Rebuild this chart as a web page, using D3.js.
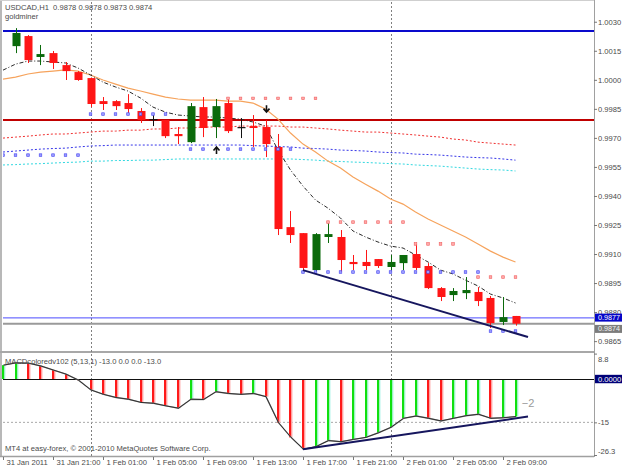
<!DOCTYPE html>
<html>
<head>
<meta charset="utf-8">
<script src="https://cdnjs.cloudflare.com/ajax/libs/d3/7.8.5/d3.min.js"></script>
<style>
  body { margin: 0; background: #fff; }
  svg text { font-family: "Liberation Sans", Arial, sans-serif; }
</style>
</head>
<body>
<div id="vis"></div>
<script>
// hourly bars, bar 0 = 31 Jan 17:00 (left edge), candles start at bar 1
var firstCandle = 1;
var candleOpen  = [1.00174,1.00226,1.00118,1.00138,1.00076,1.00040,1.00009,0.99890,0.99890,0.99880,
                   0.99839,0.99797,0.99792,0.99720,0.99678,0.99859,0.99756,0.99880,0.99756,0.99761,
                   0.99756,0.99653,0.99239,0.99208,0.99017,0.99188,0.99188,0.99059,0.99059,0.99074,
                   0.99033,0.99053,0.99100,0.99038,0.98924,0.98888,0.98898,0.98904,0.98873,0.98749,
                   0.98780];
var candleHigh  = [1.00267,1.00231,1.00180,1.00149,1.00092,1.00045,1.00012,0.99911,0.99895,0.99926,
                   0.99854,0.99828,0.99792,0.99756,0.99880,0.99911,0.99901,0.99906,0.99802,0.99818,
                   0.99792,0.99720,0.99322,0.99208,0.99208,0.99260,0.99224,0.99095,0.99121,0.99074,
                   0.99095,0.99095,0.99152,0.99053,0.98929,0.98924,0.98981,0.98929,0.98883,0.98878,
                   0.98780];
var candleLow   = [1.00138,1.00087,1.00076,1.00056,0.99999,0.99995,0.99859,0.99844,0.99844,0.99828,
                   0.99777,0.99761,0.99699,0.99668,0.99673,0.99704,0.99699,0.99725,0.99699,0.99653,
                   0.99601,0.99198,0.99157,0.99017,0.99007,0.99157,0.99007,0.99017,0.99017,0.99028,
                   0.99017,0.99017,0.99017,0.98919,0.98857,0.98857,0.98867,0.98831,0.98718,0.98733,
                   0.98730];
var candleClose = [1.00242,1.00102,1.00133,1.00087,1.00045,0.99999,0.99875,0.99875,0.99864,0.99849,
                   0.99792,0.99797,0.99709,0.99709,0.99864,0.99751,0.99864,0.99735,0.99756,0.99751,
                   0.99668,0.99229,0.99198,0.99028,0.99203,0.99203,0.99069,0.99048,0.99038,0.99038,
                   0.99059,0.99095,0.99028,0.98924,0.98878,0.98909,0.98914,0.98857,0.98743,0.98774,
                   0.98740];

// moving averages, one value per bar (bar 0..41)
var maSlow = [1.00004,1.00014,1.00030,1.00040,1.00045,1.00051,1.00045,1.00025,0.99999,0.99978,
              0.99957,0.99942,0.99926,0.99911,0.99901,0.99895,0.99895,0.99895,0.99890,0.99890,
              0.99880,0.99849,0.99797,0.99725,0.99668,0.99627,0.99580,0.99544,0.99498,0.99461,
              0.99425,0.99384,0.99358,0.99317,0.99281,0.99250,0.99219,0.99188,0.99152,0.99115,
              0.99084,0.99059];
var maFast = [1.00050,1.00081,1.00097,1.00097,1.00092,1.00087,1.00061,1.00025,0.99988,0.99963,
              0.99942,0.99906,0.99859,0.99833,0.99818,0.99813,0.99808,0.99808,0.99802,0.99797,
              0.99782,0.99761,0.99637,0.99534,0.99451,0.99379,0.99337,0.99286,0.99219,0.99188,
              0.99162,0.99141,0.99131,0.99095,0.99059,0.99017,0.98997,0.98965,0.98935,0.98893,
              0.98873,0.98847];
var bandUpper = [0.99699,0.99704,0.99709,0.99715,0.99720,0.99720,0.99725,0.99730,0.99735,0.99735,
                 0.99740,0.99740,0.99746,0.99746,0.99751,0.99751,0.99756,0.99756,0.99756,0.99761,
                 0.99761,0.99761,0.99761,0.99756,0.99756,0.99751,0.99746,0.99740,0.99735,0.99730,
                 0.99730,0.99725,0.99720,0.99715,0.99709,0.99704,0.99694,0.99689,0.99678,0.99673,
                 0.99668,0.99663];
var bandMid = [0.99627,0.99632,0.99637,0.99642,0.99645,0.99647,0.99653,0.99658,0.99660,0.99663,
               0.99663,0.99663,0.99663,0.99663,0.99663,0.99663,0.99663,0.99663,0.99663,0.99663,
               0.99660,0.99658,0.99655,0.99653,0.99647,0.99645,0.99642,0.99637,0.99635,0.99632,
               0.99627,0.99624,0.99622,0.99616,0.99614,0.99611,0.99606,0.99601,0.99598,0.99596,
               0.99591,0.99585];
var bandLower = [0.99560,0.99562,0.99565,0.99567,0.99570,0.99573,0.99575,0.99580,0.99580,0.99583,
                 0.99583,0.99585,0.99585,0.99588,0.99591,0.99591,0.99591,0.99591,0.99591,0.99591,
                 0.99591,0.99591,0.99591,0.99591,0.99588,0.99585,0.99580,0.99578,0.99575,0.99573,
                 0.99570,0.99567,0.99565,0.99560,0.99557,0.99554,0.99549,0.99544,0.99539,0.99536,
                 0.99534,0.99529];

// goldminer dots (null = no dot)
var upperDots = [null,null,null,null,null,null,null,null,null,null,
                 null,null,null,null,null,null,null,null,0.99904,0.99904,
                 0.99904,0.99904,0.99904,0.99904,0.99904,0.99904,0.99265,0.99265,0.99265,0.99265,
                 0.99265,0.99265,0.99265,0.99152,0.99152,0.99152,0.99152,null,0.98981,0.98981,
                 0.98981,0.98981];
var lowerDots = [0.99611,0.99611,0.99611,0.99611,0.99611,0.99611,0.99611,0.99823,0.99823,0.99823,
                 0.99823,0.99823,0.99823,0.99823,null,0.99642,0.99642,null,0.99642,0.99642,
                 0.99642,0.99642,0.99642,0.99642,0.99007,0.99007,0.99007,0.99007,0.99007,0.99007,
                 0.99007,0.99007,0.99007,0.99007,0.99007,0.99007,0.99007,0.99007,0.99007,0.98702,
                 0.98702,0.98702];
var arrowsUp = [[17, 0.99653]];
var arrowsDown = [[21, 0.99833]];

var levelBlue = 1.00252;
var levelRed = 0.99792;
var askPrice = 0.9877;
var bidPrice = 0.9874;
var trendMain = [[24, 0.99017], [42, 0.98671]];

// MACDcoloredv102 histogram
var macdHist = [4.8,5.6,5.5,4.5,3.1,1.7,-0.4,-3.8,-5.3,-6.4,
                -7.0,-8.1,-8.4,-9.3,-10.1,-7.0,-7.1,-4.4,-5.0,-5.3,
                -5.0,-6.1,-15.1,-20.2,-24.3,-23.4,-21.3,-21.7,-20.9,-20.2,
                -18.6,-16.7,-13.6,-12.8,-13.6,-14.5,-13.6,-12.7,-12.2,-13.6,
                -13.4,-13.0];
var trendMacd = [[24, -24.3], [42, -13.0]];
var macdLevel = -15;
var macdNote = [41.5, -9.7, "\u22122"];

var priceTicks = [1.0030,1.0015,1.0000,0.9985,0.9970,0.9955,0.9940,0.9925,0.9910,0.9895,0.9880,0.9865];
var macdTicks = [8.8, -15, -26.3];
var timeTickBars = [0,4,8,12,16,20,24,28,32,36,40];
var timeTickLabels = ["31 Jan 2011","31 Jan 21:00","1 Feb 01:00","1 Feb 05:00","1 Feb 09:00",
                      "1 Feb 13:00","1 Feb 17:00","1 Feb 21:00","2 Feb 01:00","2 Feb 05:00","2 Feb 09:00"];
var daySeparators = [7, 31];

(function run(){

  var W = 625, H = 469;
  var plotLeft = 3, plotRight = 594;
  var mainTop = 2, mainBottom = 351;
  var indTop = 354, indBottom = 456;
  var fs = 7.6;
  var textColor = "#4a4a4a";

  var svg = d3.select("#vis")
    .append("svg")
      .attr("width", W)
      .attr("height", H);

  svg.append("rect").attr("width", W).attr("height", H).attr("fill", "#fff");

  var x = d3.scaleLinear().domain([0, 47.28]).range([plotLeft, plotRight]);
  var y = d3.scaleLinear().domain([0.98599, 1.00402]).range([mainBottom, mainTop]);
  var yInd = d3.scaleLinear().domain([-26.3, 8.8]).range([455, 353.6]);

  var defs = svg.append("defs");
  defs.append("clipPath").attr("id", "clipMain")
    .append("rect").attr("x", plotLeft).attr("y", mainTop)
    .attr("width", plotRight - plotLeft).attr("height", mainBottom - mainTop);
  defs.append("clipPath").attr("id", "clipInd")
    .append("rect").attr("x", plotLeft - 1).attr("y", indTop)
    .attr("width", plotRight - plotLeft + 1).attr("height", indBottom - indTop);

  // frame
  svg.append("line").attr("x1", 1).attr("x2", 1).attr("y1", 0).attr("y2", indBottom + 1)
    .attr("stroke", "#b8b8b8").attr("stroke-width", 2);
  svg.append("line").attr("x1", 0).attr("x2", plotRight).attr("y1", 0.5).attr("y2", 0.5)
    .attr("stroke", "#cfcfcf");
  svg.append("line").attr("x1", 0).attr("x2", plotRight).attr("y1", 352).attr("y2", 352)
    .attr("stroke", "#a8a8a8").attr("stroke-width", 2);
  svg.append("line").attr("x1", 0).attr("x2", plotRight).attr("y1", indBottom + 0.5).attr("y2", indBottom + 0.5)
    .attr("stroke", "#a0a0a0").attr("stroke-width", 1.5);
  svg.append("line").attr("x1", plotRight + 0.5).attr("x2", plotRight + 0.5).attr("y1", 0).attr("y2", indBottom + 1)
    .attr("stroke", "#a0a0a0");

  // day separators
  svg.selectAll(".sep")
    .data(daySeparators)
    .enter()
    .append("line")
      .attr("class", "sep")
      .attr("x1", function(d){ return Math.round(x(d)) + 0.5; })
      .attr("x2", function(d){ return Math.round(x(d)) + 0.5; })
      .attr("y1", 2).attr("y2", indBottom)
      .attr("stroke", "#808080")
      .attr("stroke-dasharray", "2,2");

  var g = svg.append("g").attr("clip-path", "url(#clipMain)");

  // horizontal levels
  g.append("line").attr("x1", plotLeft).attr("x2", plotRight)
    .attr("y1", y(levelBlue)).attr("y2", y(levelBlue))
    .attr("stroke", "#0a0acc").attr("stroke-width", 2);
  g.append("line").attr("x1", plotLeft).attr("x2", plotRight)
    .attr("y1", y(levelRed)).attr("y2", y(levelRed))
    .attr("stroke", "#c00000").attr("stroke-width", 2);

  var line = d3.line()
    .defined(function(d){ return d != null; })
    .x(function(d, i){ return x(i); })
    .y(function(d){ return y(d); });

  g.append("path").datum(bandUpper).attr("d", line)
    .attr("fill", "none").attr("stroke", "#f03030").attr("stroke-dasharray", "2,2");
  g.append("path").datum(bandMid).attr("d", line)
    .attr("fill", "none").attr("stroke", "#3535e8").attr("stroke-dasharray", "2,2");
  g.append("path").datum(bandLower).attr("d", line)
    .attr("fill", "none").attr("stroke", "#30d8e0").attr("stroke-dasharray", "2,2");
  g.append("path").datum(maSlow).attr("d", line)
    .attr("fill", "none").attr("stroke", "#f6a35c").attr("stroke-width", 1.2);
  g.append("path").datum(maFast).attr("d", line)
    .attr("fill", "none").attr("stroke", "#2a2a2a").attr("stroke-dasharray", "4,2,1,2");

  // price lines
  g.append("line").attr("x1", plotLeft).attr("x2", plotRight)
    .attr("y1", y(askPrice)).attr("y2", y(askPrice))
    .attr("stroke", "#4b4bff");
  g.append("line").attr("x1", plotLeft).attr("x2", plotRight)
    .attr("y1", y(bidPrice)).attr("y2", y(bidPrice))
    .attr("stroke", "#9a9a9a").attr("stroke-width", 2);

  // candles
  var candles = candleOpen.map(function(o, j){
    return { i: j + firstCandle, o: o, h: candleHigh[j], l: candleLow[j], c: candleClose[j] };
  });
  function candleColor(d){
    if (d.c > d.o) return "#0b6a0b";
    if (d.c < d.o) return "#ff1616";
    return "#111";
  }

  g.selectAll(".wick")
    .data(candles)
    .enter()
    .append("line")
      .attr("class", "wick")
      .attr("x1", function(d){ return Math.round(x(d.i)) + 0.5; })
      .attr("x2", function(d){ return Math.round(x(d.i)) + 0.5; })
      .attr("y1", function(d){ return y(d.h); })
      .attr("y2", function(d){ return y(d.l); })
      .attr("stroke", candleColor);

  g.selectAll(".body")
    .data(candles)
    .enter()
    .append("rect")
      .attr("class", "body")
      .attr("x", function(d){ return Math.round(x(d.i)) - 3.5; })
      .attr("width", 8)
      .attr("y", function(d){ return y(Math.max(d.o, d.c)); })
      .attr("height", function(d){ return Math.max(1.2, y(Math.min(d.o, d.c)) - y(Math.max(d.o, d.c))); })
      .attr("fill", candleColor);

  // goldminer dots
  g.selectAll(".udot")
    .data(upperDots.map(function(p, i){ return {i: i, p: p}; }).filter(function(d){ return d.p != null; }))
    .enter()
    .append("rect")
      .attr("class", "udot")
      .attr("x", function(d){ return x(d.i) - 1.3; })
      .attr("y", function(d){ return y(d.p) - 1.3; })
      .attr("width", 2.6).attr("height", 2.6)
      .attr("fill", "#ffa8a8").attr("stroke", "#f06060").attr("stroke-width", 0.6);

  g.selectAll(".ldot")
    .data(lowerDots.map(function(p, i){ return {i: i, p: p}; }).filter(function(d){ return d.p != null; }))
    .enter()
    .append("rect")
      .attr("class", "ldot")
      .attr("x", function(d){ return x(d.i) - 1.3; })
      .attr("y", function(d){ return y(d.p) - 1.3; })
      .attr("width", 2.6).attr("height", 2.6)
      .attr("fill", "#9a9aff").attr("stroke", "#4646f0").attr("stroke-width", 0.6);

  function arrowPath(cx, tipY, s){
    return "M" + cx + "," + (tipY + s * 7) + "L" + cx + "," + tipY +
      "M" + (cx - 3) + "," + (tipY + s * 3.5) + "L" + cx + "," + tipY + "L" + (cx + 3) + "," + (tipY + s * 3.5);
  }
  g.selectAll(".arrUp")
    .data(arrowsUp)
    .enter()
    .append("path")
      .attr("d", function(d){ return arrowPath(Math.round(x(d[0])) + 0.5, y(d[1]), 1); })
      .attr("fill", "none").attr("stroke", "#111").attr("stroke-width", 1.6);
  g.selectAll(".arrDn")
    .data(arrowsDown)
    .enter()
    .append("path")
      .attr("d", function(d){ return arrowPath(Math.round(x(d[0])) + 0.5, y(d[1]), -1); })
      .attr("fill", "none").attr("stroke", "#111").attr("stroke-width", 1.6);

  // trend line
  g.append("line")
    .attr("x1", x(trendMain[0][0])).attr("y1", y(trendMain[0][1]))
    .attr("x2", x(trendMain[1][0])).attr("y2", y(trendMain[1][1]))
    .attr("stroke", "#16165e").attr("stroke-width", 2);

  // price axis
  var yAxis = d3.axisRight(y)
    .tickValues(priceTicks)
    .tickFormat(d3.format(".4f"))
    .tickSize(3)
    .tickPadding(1);

  var ya = svg.append("g")
    .attr("transform", "translate(" + plotRight + ",0)")
    .call(yAxis);
  ya.select(".domain").remove();
  ya.selectAll("line").attr("stroke", "#777");
  ya.selectAll("text")
    .attr("fill", textColor)
    .attr("font-size", fs)
    .style("font-family", "Liberation Sans, Arial, sans-serif");

  // price boxes (ask box above, bid box below, as in the terminal)
  var boxFs = 7.2;
  var boxes = [[askPrice, "#0505c8", "#fff", -4.3], [bidPrice, "#7c7c7c", "#f2f2f2", 1.2]];
  svg.selectAll(".pbox")
    .data(boxes)
    .enter()
    .append("rect")
      .attr("x", plotRight + 1).attr("width", 27)
      .attr("y", function(d){ return y(d[0]) + d[3]; }).attr("height", 8)
      .attr("fill", function(d){ return d[1]; });
  svg.selectAll(".ptext")
    .data(boxes)
    .enter()
    .append("text")
      .attr("x", plotRight + 4).attr("y", function(d){ return y(d[0]) + d[3] + 4; })
      .attr("dy", "0.35em")
      .attr("font-size", boxFs)
      .attr("fill", function(d){ return d[2]; })
      .text(function(d){ return d3.format(".4f")(d[0]); });

  // titles
  svg.append("text").attr("x", 5).attr("y", 10)
    .attr("font-size", fs).attr("fill", textColor)
    .style("white-space", "pre")
    .text("USDCAD,H1  0.9878 0.9878 0.9873 0.9874");
  svg.append("text").attr("x", 5).attr("y", 19)
    .attr("font-size", fs).attr("fill", textColor)
    .text("goldminer");

  // ---- indicator window
  var gi = svg.append("g").attr("clip-path", "url(#clipInd)");

  gi.append("line").attr("x1", plotLeft).attr("x2", plotRight)
    .attr("y1", yInd(macdLevel)).attr("y2", yInd(macdLevel))
    .attr("stroke", "#a8a8a8").attr("stroke-dasharray", "2,2");

  var histUp = macdHist.map(function(v, i){ return i === 0 || v >= macdHist[i - 1]; });

  gi.selectAll(".hshadow")
    .data(macdHist)
    .enter()
    .append("rect")
      .attr("class", "hshadow")
      .attr("x", function(d, i){ return Math.round(x(i)) + 1; })
      .attr("width", 1.6)
      .attr("y", function(d){ return Math.min(yInd(0), yInd(d)); })
      .attr("height", function(d){ return Math.abs(yInd(d) - yInd(0)); })
      .attr("fill", function(d, i){ return histUp[i] ? "#c4f7ef" : "#ffc2c2"; });

  gi.selectAll(".hbar")
    .data(macdHist)
    .enter()
    .append("rect")
      .attr("class", "hbar")
      .attr("x", function(d, i){ return Math.round(x(i)) - 1; })
      .attr("width", 2.2)
      .attr("y", function(d){ return Math.min(yInd(0), yInd(d)); })
      .attr("height", function(d){ return Math.abs(yInd(d) - yInd(0)); })
      .attr("fill", function(d, i){ return histUp[i] ? "#10e010" : "#ff1a1a"; });

  gi.append("line").attr("x1", plotLeft).attr("x2", plotRight)
    .attr("y1", Math.round(yInd(0)) + 0.5).attr("y2", Math.round(yInd(0)) + 0.5)
    .attr("stroke", "#111");

  var iline = d3.line()
    .x(function(d, i){ return x(i) + 0.5; })
    .y(function(d){ return yInd(d); });
  gi.append("path").datum(macdHist).attr("d", iline)
    .attr("fill", "none").attr("stroke", "#888").attr("stroke-width", 1.4);
  gi.append("path").datum(macdHist).attr("d", iline)
    .attr("fill", "none").attr("stroke", "#1a1a1a").attr("stroke-width", 0.8);

  gi.append("line")
    .attr("x1", x(trendMacd[0][0])).attr("y1", yInd(trendMacd[0][1]))
    .attr("x2", x(trendMacd[1][0])).attr("y2", yInd(trendMacd[1][1]))
    .attr("stroke", "#16165e").attr("stroke-width", 2);

  gi.append("text")
    .attr("x", x(macdNote[0])).attr("y", yInd(macdNote[1]))
    .attr("font-size", 11).attr("fill", "#9a9a9a")
    .text(macdNote[2]);

  svg.append("text").attr("x", 5).attr("y", 364)
    .attr("font-size", fs).attr("fill", textColor)
    .text("MACDcoloredv102 (5,13,1) -13.0 0.0 0.0 -13.0");
  svg.append("text").attr("x", 5).attr("y", 451)
    .attr("font-size", fs).attr("fill", textColor)
    .text("MT4 at easy-forex, \u00a9 2001-2010 MetaQuotes Software Corp.");

  // indicator axis
  var iAxis = d3.axisRight(yInd)
    .tickValues(macdTicks)
    .tickFormat(function(d){ return String(d); })
    .tickSize(3)
    .tickPadding(1);
  var ia = svg.append("g")
    .attr("transform", "translate(" + plotRight + ",0)")
    .call(iAxis);
  ia.select(".domain").remove();
  ia.selectAll("line").attr("stroke", "#777");
  ia.selectAll("text")
    .attr("fill", textColor)
    .attr("font-size", fs)
    .attr("dy", function(d){ return d === 8.8 ? "1.05em" : (d === -26.3 ? "-0.2em" : "0.32em"); })
    .style("font-family", "Liberation Sans, Arial, sans-serif");

  svg.append("rect")
    .attr("x", plotRight + 1).attr("width", 27)
    .attr("y", yInd(0) - 4.2).attr("height", 8.4)
    .attr("fill", "#000078");
  svg.append("text")
    .attr("x", plotRight + 4).attr("y", yInd(0)).attr("dy", "0.35em")
    .attr("font-size", fs).attr("fill", "#fff")
    .text(d3.format(".4f")(0));

  // time axis
  var xAxis = d3.axisBottom(x)
    .tickValues(timeTickBars)
    .tickFormat(function(d, i){ return timeTickLabels[i]; })
    .tickSize(3)
    .tickPadding(0);
  var xa = svg.append("g")
    .attr("transform", "translate(0," + (indBottom + 1) + ")")
    .call(xAxis);
  xa.select(".domain").remove();
  xa.selectAll("line").attr("stroke", "#777");
  xa.selectAll("text")
    .attr("text-anchor", "start")
    .attr("x", 3)
    .attr("fill", textColor)
    .attr("font-size", fs)
    .style("font-family", "Liberation Sans, Arial, sans-serif");

})();
</script>
</body>
</html>
